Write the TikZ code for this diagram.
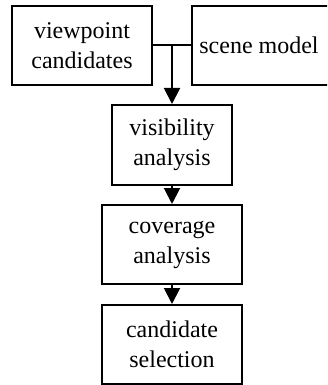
\documentclass[tikz,border=0pt]{standalone}
\usepackage{fontspec}
\setmainfont{Liberation Serif}
\usetikzlibrary{arrows.meta}
\begin{document}
\begin{tikzpicture}[x=1pt,y=1pt,
  txt/.style={font=\fontsize{24}{30}\selectfont},
  box/.style={txt,draw=black,line width=2pt,fill=white,rectangle,inner sep=0pt,align=center},
  conn/.style={line width=2pt},
  arr/.style={conn,-{Triangle[length=16pt,width=16pt]}}]
\useasboundingbox (0,0) rectangle (327,-385);
\clip (0,0) rectangle (327,-385);
\node[box,minimum width=140pt,minimum height=79pt] (vp) at (82,-45.5) {viewpoint\\candidates};
\node[box,minimum width=160pt,minimum height=79pt] (sm) at (272,-45.5) {};
\node[txt] (smt) at (259,-45.5) {scene model};
\node[box,minimum width=120pt,minimum height=80pt] (vis) at (172,-145) {visibility\\analysis};
\node[box,minimum width=140pt,minimum height=79pt] (cov) at (172,-244.5) {coverage\\analysis};
\node[box,minimum width=140pt,minimum height=79pt] (cand) at (172,-344.5) {candidate\\selection};
\coordinate (j) at (vis.north |- vp.east);
\draw[conn] (vp.east) -- (sm.west);
\draw[arr] (j) -- (vis.north);
\draw[arr] (vis.south) -- (cov.north);
\draw[arr] (cov.south) -- (cand.north);
\end{tikzpicture}
\end{document}
